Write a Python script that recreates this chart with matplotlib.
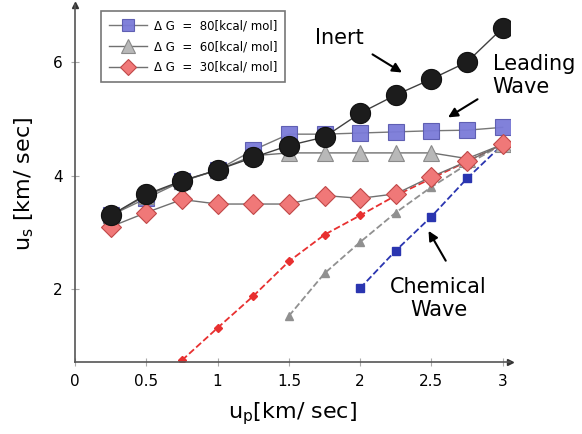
import matplotlib
matplotlib.use("Agg")
import matplotlib.pyplot as plt

up = [0.25, 0.5, 0.75, 1.0, 1.25, 1.5, 1.75, 2.0, 2.25, 2.5, 2.75, 3.0]
inert = [3.30, 3.67, 3.91, 4.10, 4.32, 4.53, 4.68, 5.10, 5.42, 5.70, 6.00, 6.60]
lead80 = [3.30, 3.60, 3.90, 4.10, 4.45, 4.73, 4.73, 4.75, 4.77, 4.79, 4.80, 4.85]
lead60 = [3.30, 3.65, 3.90, 4.10, 4.35, 4.40, 4.40, 4.40, 4.40, 4.40, 4.30, 4.55]
lead30 = [3.10, 3.35, 3.58, 3.50, 3.50, 3.50, 3.65, 3.60, 3.68, 3.98, 4.25, 4.55]

chem30_x = [0.75, 1.0, 1.25, 1.5, 1.75, 2.0, 2.25, 2.5, 2.75, 3.0]
chem30 = [0.75, 1.32, 1.88, 2.49, 2.96, 3.30, 3.65, 3.95, 4.25, 4.55]
chem60_x = [1.5, 1.75, 2.0, 2.25, 2.5, 2.75, 3.0]
chem60 = [1.53, 2.28, 2.83, 3.35, 3.80, 4.20, 4.55]
chem80_x = [2.0, 2.25, 2.5, 2.75, 3.0]
chem80 = [2.02, 2.68, 3.28, 3.95, 4.55]

legend_labels = ["\u0394 G  =  80[kcal/ mol]", "\u0394 G  =  60[kcal/ mol]", "\u0394 G  =  30[kcal/ mol]"]
xticks = [0, 0.5, 1, 1.5, 2, 2.5, 3]
xticklabels = ["0", "0.5", "1", "1.5", "2", "2.5", "3"]
yticks = [2, 4, 6]

fig = plt.figure(figsize=(5.82, 4.34), dpi=100)
ax = fig.add_axes([0.129, 0.166, 0.747, 0.822])
ax.set_xlim(0, 3.05)
ax.set_ylim(0.72, 7.0)

line_col = "#707070"
h80, = ax.plot(up, lead80, '-', color=line_col, lw=1, marker='s', ms=11,
               mfc='#7a7ad8', mec='#5a5ab0', mew=0.8, alpha=0.95, zorder=3)
h60, = ax.plot(up, lead60, '-', color=line_col, lw=1, marker='^', ms=12,
               mfc='#b8b8b8', mec='#8a8a8a', mew=0.8, zorder=3)
h30, = ax.plot(up, lead30, '-', color=line_col, lw=1, marker='D', ms=10,
               mfc='#f07878', mec='#c04848', mew=0.8, zorder=4)
ax.plot(up, inert, '-', color='#404040', lw=1, marker='o', ms=14.5,
        mfc='#1c1c1c', mec='#101010', mew=0.8, zorder=5)

ax.plot(chem30_x, chem30, '--', color='#e83030', lw=1.3, marker='D', ms=4.5,
        mfc='#e83030', mec='#e83030', zorder=2)
ax.plot(chem60_x, chem60, '--', color='#909090', lw=1.3, marker='^', ms=6,
        mfc='#909090', mec='#909090', zorder=2)
ax.plot(chem80_x, chem80, '--', color='#2a35b0', lw=1.3, marker='s', ms=6,
        mfc='#2a35b0', mec='#2a35b0', zorder=2)

leg = ax.legend([h80, h60, h30], legend_labels, loc='upper left',
                bbox_to_anchor=(0.045, 1.0), fontsize=8.5, frameon=True,
                fancybox=False, edgecolor='#555555', handlelength=3.2,
                markerscale=0.85, borderpad=0.7, labelspacing=0.65,
                handletextpad=0.6)
leg.get_frame().set_linewidth(1.2)

arrowprops = dict(arrowstyle='-|>', color='black', lw=1.5, mutation_scale=14)
ax.annotate("", xy=(2.31, 5.79), xytext=(2.07, 6.16), arrowprops=arrowprops)
ax.text(1.68, 6.42, "Inert", fontsize=15, ha='left', va='center')
ax.annotate("", xy=(2.60, 5.0), xytext=(2.84, 5.37), arrowprops=arrowprops)
ax.text(2.93, 5.76, "Leading\nWave", fontsize=15, ha='left', va='center',
        linespacing=1.2, clip_on=False)
ax.annotate("", xy=(2.47, 3.07), xytext=(2.61, 2.46), arrowprops=arrowprops)
ax.text(2.55, 1.84, "Chemical\nWave", fontsize=15, ha='center', va='center',
        linespacing=1.2)

for s in ['top', 'right']:
    ax.spines[s].set_visible(False)
for s in ['left', 'bottom']:
    ax.spines[s].set_color('#555555')
    ax.spines[s].set_linewidth(1.2)
ax.plot(1, 0, '>', color='#333333', ms=5, transform=ax.transAxes, clip_on=False)
ax.plot(0, 1, '^', color='#333333', ms=5, transform=ax.transAxes, clip_on=False)

ax.set_xticks(xticks)
ax.set_xticklabels(xticklabels)
ax.set_yticks(yticks)
ax.tick_params(direction='inout', length=6, color='#aaaaaa', labelsize=11, pad=6)

ax.set_xlabel("u$_\\mathregular{p}$[km/ sec]", fontsize=16, labelpad=8)
ax.set_ylabel("u$_\\mathregular{s}$ [km/ sec]", fontsize=16, labelpad=12)

fig.savefig("out.png", dpi=100)
